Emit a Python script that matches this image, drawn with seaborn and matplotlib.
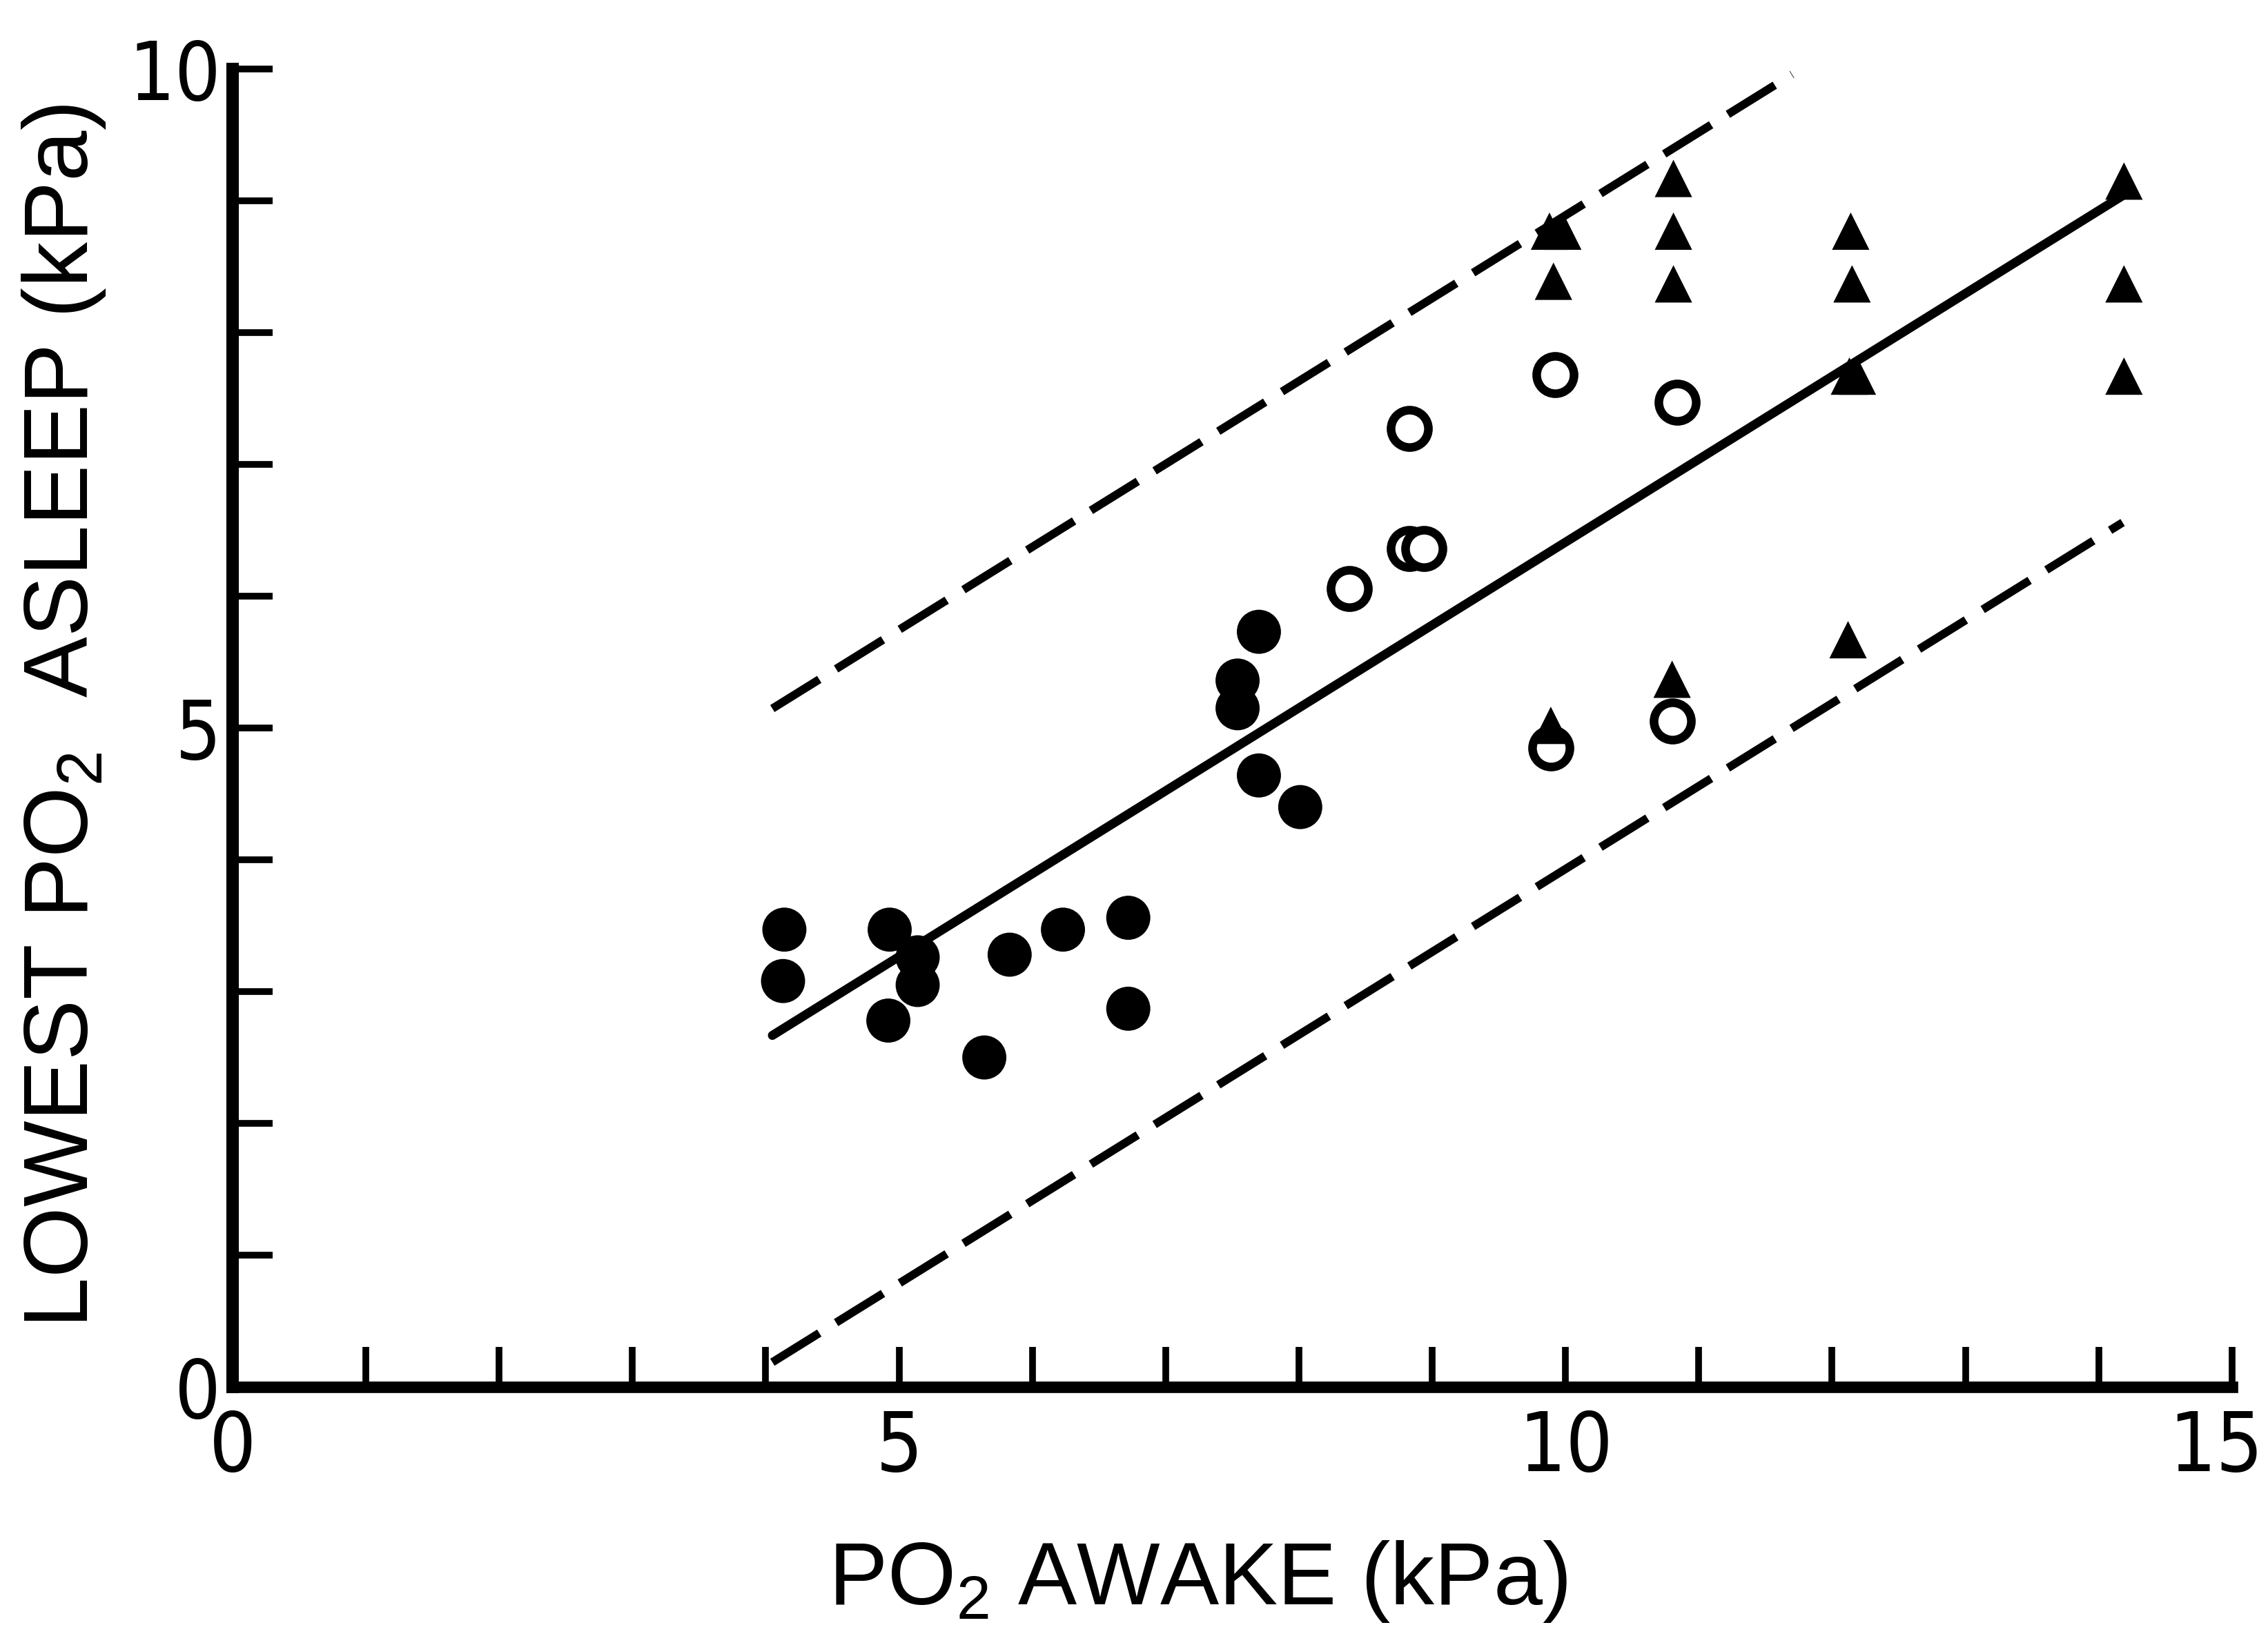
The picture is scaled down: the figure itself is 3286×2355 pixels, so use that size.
import numpy as np
import pandas as pd
import matplotlib
matplotlib.use("Agg")
import matplotlib.pyplot as plt
import seaborn as sns
from matplotlib import font_manager

# ---------------- data ----------------
filled_circle_x = [4.14, 4.13, 4.93, 5.14, 5.14, 4.92, 5.64, 5.83, 6.23, 6.72, 6.72, 7.54, 7.54, 7.70, 7.70, 8.01]
filled_circle_y = [3.47, 3.08, 3.47, 3.26, 3.05, 2.78, 2.50, 3.28, 3.47, 3.56, 2.87, 5.36, 5.15, 5.73, 4.64, 4.40]

open_circle_x = [8.38, 8.83, 8.83, 8.94, 9.92, 10.84, 9.89, 10.80]
open_circle_y = [6.06, 7.27, 6.36, 6.36, 7.68, 7.47, 4.85, 5.05]

triangle_x = [9.88, 9.98, 9.91, 10.81, 10.81, 10.81, 12.14, 12.15, 12.13, 12.19, 14.19, 14.19, 14.19, 9.89, 10.80, 12.12]
triangle_y = [8.77, 8.77, 8.39, 9.17, 8.77, 8.37, 8.77, 8.37, 7.67, 7.67, 9.15, 8.37, 7.67, 5.02, 5.37, 5.67]

# regression line and limits
reg_slope = 0.629
reg_intercept = 0.12
limit_offset = 2.48
reg_x = [4.05, 14.20]
upper_x = [4.05, 11.70]
lower_x = [4.05, 14.18]

x_ticks = list(range(0, 16))
x_tick_labels = ["0", "", "", "", "", "5", "", "", "", "", "10", "", "", "", "", "15"]
y_ticks = list(range(0, 11))
y_tick_labels = ["0", "", "", "", "", "5", "", "", "", "", "10"]

x_label = "PO$_\\mathregular{2}$ AWAKE (kPa)"
y_label = "LOWEST PO$_\\mathregular{2}$  ASLEEP (kPa)"

# ---------------- style ----------------
sns.set_style("ticks")
names = {f.name for f in font_manager.fontManager.ttflist}
regular = "Liberation Sans" if "Liberation Sans" in names else "DejaVu Sans"
if "Liberation Sans Narrow" in names:
    narrow_family, narrow_stretch = "Liberation Sans Narrow", "normal"
else:
    narrow_family, narrow_stretch = "DejaVu Sans", "condensed"
plt.rcParams["font.family"] = [regular, "DejaVu Sans"]
for key in ["text.color", "axes.edgecolor", "xtick.color", "ytick.color", "axes.labelcolor"]:
    plt.rcParams[key] = "black"

fig = plt.figure(figsize=(32.87, 23.55), dpi=100)
fig.patch.set_facecolor("white")
ax = fig.add_axes([0.1025, 0.1465, 0.8813, 0.811])
ax.set_facecolor("white")

df_reg = pd.DataFrame({"x": reg_x, "y": [reg_intercept + reg_slope * v for v in reg_x]})
df_up = pd.DataFrame({"x": upper_x, "y": [reg_intercept + limit_offset + reg_slope * v for v in upper_x]})
df_lo = pd.DataFrame({"x": lower_x, "y": [reg_intercept - limit_offset + reg_slope * v for v in lower_x]})

sns.lineplot(data=df_reg, x="x", y="y", ax=ax, color="black", linewidth=9.4, zorder=2)
sns.lineplot(data=df_up, x="x", y="y", ax=ax, color="black", linewidth=8.6, zorder=2)
ax.lines[-1].set_dashes((6.7, 2.4))
sns.lineplot(data=df_lo, x="x", y="y", ax=ax, color="black", linewidth=8.6, zorder=2)
ax.lines[-1].set_dashes((6.7, 2.4))

df_f = pd.DataFrame({"x": filled_circle_x, "y": filled_circle_y})
df_o = pd.DataFrame({"x": open_circle_x, "y": open_circle_y})
df_t = pd.DataFrame({"x": triangle_x, "y": triangle_y})

sns.scatterplot(data=df_f, x="x", y="y", ax=ax, marker="o", s=2116, color="black",
                edgecolor="none", linewidth=0, zorder=3)
sns.scatterplot(data=df_o, x="x", y="y", ax=ax, marker="o", s=1520, color="white",
                edgecolor="black", linewidth=9.0, zorder=4)
sns.scatterplot(data=df_t, x="x", y="y", ax=ax, marker="^", s=1520, color="black",
                edgecolor="none", linewidth=0, zorder=5)

ax.set_xlim(0, 15)
ax.set_ylim(0, 10)
ax.set_xticks(x_ticks)
ax.set_xticklabels(x_tick_labels, fontsize=86, family=[narrow_family, "DejaVu Sans"],
                   fontstretch=narrow_stretch, color="black")
ax.set_yticks(y_ticks)
ax.set_yticklabels(y_tick_labels, fontsize=84, family=[narrow_family, "DejaVu Sans"],
                   fontstretch=narrow_stretch, color="black")
ax.tick_params(axis="both", direction="in", length=42, width=7, color="black")
ax.tick_params(axis="x", pad=22)
ax.tick_params(axis="y", pad=12)
# last x label sits slightly left of its tick in the reference
xt = ax.get_xticklabels()
xt[-1].set_horizontalalignment("right")
from matplotlib.transforms import ScaledTranslation
xt[-1].set_transform(xt[-1].get_transform() + ScaledTranslation(0.45, 0, fig.dpi_scale_trans))

for side in ["top", "right"]:
    ax.spines[side].set_visible(False)
ax.spines["left"].set_linewidth(13)
ax.spines["bottom"].set_linewidth(12)
ax.spines["left"].set_color("black")
ax.spines["bottom"].set_color("black")
ax.set_xlabel("")
ax.set_ylabel("")

fig.text(0.528, 0.0127, x_label, ha="center", va="baseline", fontsize=92, color="black")
fig.text(0.028, 0.559, y_label, ha="center", va="center", rotation=90, fontsize=95, color="black")

fig.savefig("out.png", dpi=100, facecolor="white")
